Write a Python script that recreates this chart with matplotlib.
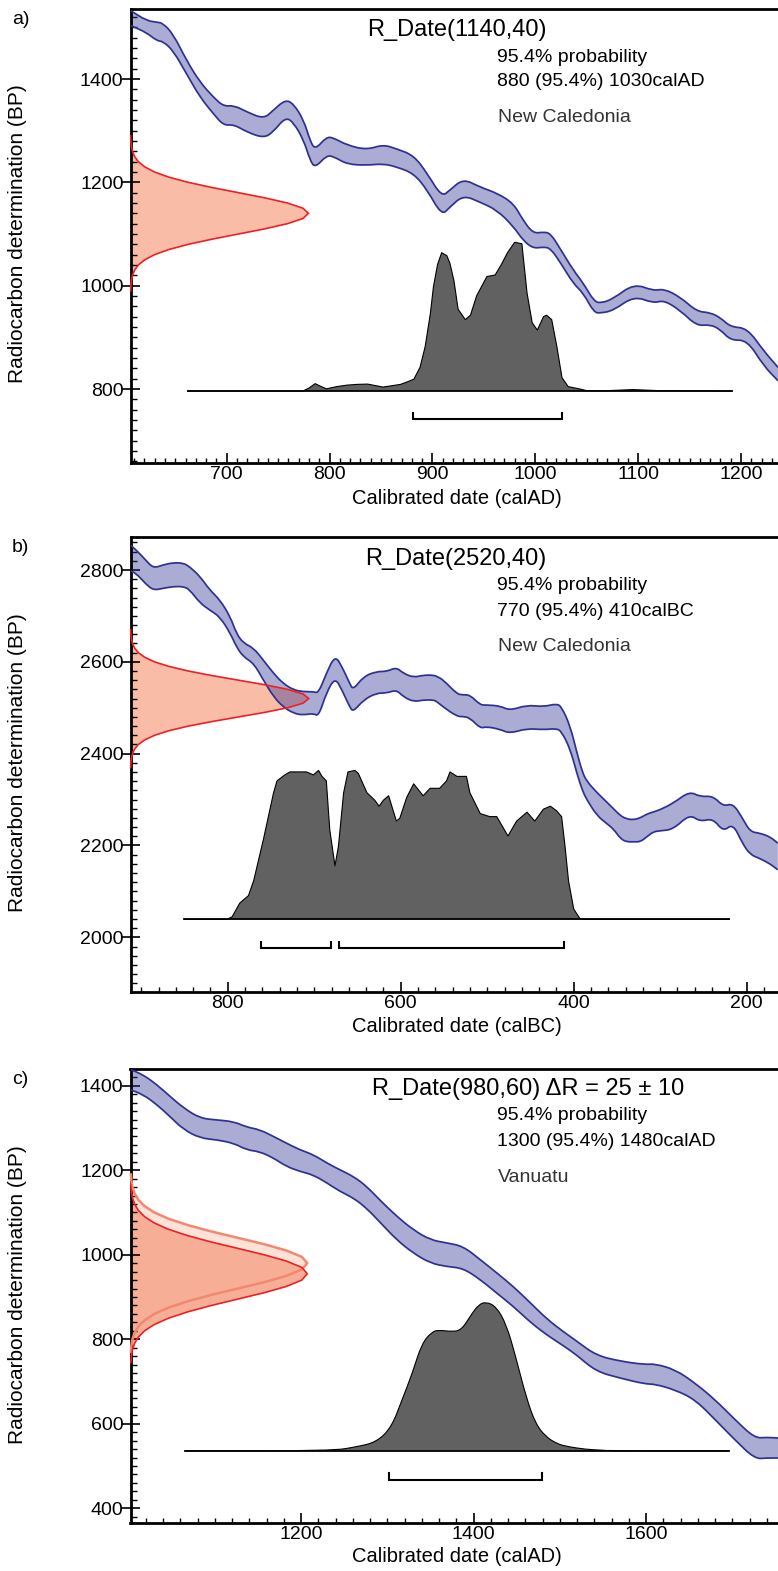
import numpy as np
import matplotlib
matplotlib.use('Agg')
import matplotlib.pyplot as plt
from matplotlib.ticker import MultipleLocator, FixedLocator
from matplotlib.path import Path
from matplotlib.patches import PathPatch

plt.rcParams['font.family'] = ['Liberation Sans', 'DejaVu Sans']

W, H = 778, 1571

# ---------------- Panel a data ----------------
a_cal_years = [600, 607, 622, 632, 638, 648, 661, 674, 687, 697, 707, 720, 736, 745, 757, 765, 775,
               781, 786, 797, 804, 817, 836, 852, 865, 882, 895, 909, 917, 930, 946, 963, 979, 988,
               998, 1008, 1015, 1025, 1037, 1047, 1057, 1064, 1076, 1096, 1115, 1125, 1141, 1157,
               1170, 1180, 1190, 1206, 1222, 1236]
a_cal_upper = [1540, 1532, 1513, 1510, 1508, 1487, 1436, 1394, 1365, 1347, 1349, 1336, 1323, 1339, 1360,
               1352, 1320, 1281, 1263, 1288, 1286, 1272, 1263, 1273, 1265, 1252, 1217, 1172, 1185, 1207,
               1191, 1179, 1159, 1127, 1101, 1104, 1101, 1069, 1030, 1004, 970, 966, 975, 1004, 990,
               994, 978, 950, 948, 938, 920, 918, 874, 842]
a_cal_lower = [1510, 1503, 1490, 1474, 1473, 1455, 1410, 1365, 1333, 1310, 1312, 1297, 1286, 1297, 1326,
               1316, 1281, 1243, 1228, 1252, 1250, 1235, 1233, 1236, 1230, 1217, 1185, 1136, 1152, 1175,
               1162, 1146, 1114, 1088, 1072, 1075, 1072, 1043, 1004, 985, 948, 947, 952, 980, 966,
               972, 952, 922, 925, 915, 894, 895, 845, 816]
a_rdate_bp = [990, 1000, 1010, 1020, 1030, 1040, 1050, 1060, 1070, 1080, 1090, 1100, 1110, 1120, 1130,
              1140, 1150, 1160, 1170, 1180, 1190, 1200, 1210, 1220, 1230, 1240, 1250, 1260, 1270,
              1280, 1290]
a_rdate_dens = [0.001, 0.002, 0.005, 0.011, 0.023, 0.044, 0.080, 0.135, 0.216, 0.325, 0.458, 0.607,
                0.755, 0.882, 0.969, 1.000, 0.969, 0.882, 0.755, 0.607, 0.458, 0.325, 0.216, 0.135,
                0.080, 0.044, 0.023, 0.011, 0.005, 0.002, 0.001]
a_post_years = [662, 774, 780, 786, 792, 797, 807, 817, 827, 837, 852, 869, 875, 882, 888, 893, 898,
                901, 905, 909, 914, 917, 921, 925, 932, 937, 943, 953, 961, 967, 973, 980, 987, 992,
                997, 1002, 1008, 1011, 1016, 1021, 1026, 1032, 1044, 1050, 1070, 1095, 1120, 1191]
a_post_prob = [0, 0, 0.02, 0.05, 0.03, 0.015, 0.03, 0.04, 0.045, 0.047, 0.027, 0.045, 0.06, 0.08, 0.16,
               0.30, 0.52, 0.70, 0.85, 0.93, 0.91, 0.86, 0.74, 0.55, 0.48, 0.51, 0.64, 0.77, 0.78, 0.85,
               0.93, 1.0, 0.99, 0.66, 0.46, 0.41, 0.50, 0.51, 0.48, 0.30, 0.09, 0.03, 0.013, 0.003,
               0.003, 0.01, 0.003, 0]
a_ranges = [(881, 1026)]

# ---------------- Panel b data (calBC) ----------------
b_cal_years = [915, 906, 895, 886, 875, 863, 851, 844, 832, 821, 809, 797, 790, 782, 770, 759, 747,
               736, 724, 713, 701, 695, 686, 676, 668, 659, 655, 643, 628, 616, 605, 597, 585, 574,
               562, 558, 551, 535, 528, 520, 508, 501, 485, 474, 454, 435, 420, 414, 404, 396, 390,
               385, 373, 362, 354, 346, 339, 331, 323, 316, 308, 300, 285, 266, 254, 239, 227, 216,
               205, 196, 185, 173, 164]
b_cal_upper = [2858, 2844, 2822, 2804, 2811, 2816, 2815, 2807, 2786, 2757, 2735, 2698, 2662, 2641, 2630,
               2604, 2575, 2553, 2539, 2535, 2535, 2532, 2575, 2614, 2590, 2553, 2539, 2568, 2579, 2579,
               2588, 2575, 2566, 2571, 2571, 2568, 2561, 2530, 2528, 2528, 2506, 2506, 2504, 2494,
               2506, 2502, 2509, 2502, 2460, 2400, 2360, 2340, 2315, 2295, 2280, 2265, 2258, 2256,
               2260, 2268, 2273, 2278, 2292, 2318, 2306, 2308, 2285, 2292, 2260, 2230, 2227, 2219, 2205]
b_cal_lower = [2800, 2793, 2770, 2756, 2760, 2764, 2764, 2757, 2728, 2713, 2698, 2662, 2633, 2611, 2597,
               2561, 2524, 2502, 2488, 2484, 2488, 2481, 2532, 2566, 2539, 2502, 2491, 2517, 2532, 2532,
               2539, 2524, 2513, 2517, 2517, 2513, 2502, 2481, 2481, 2478, 2455, 2459, 2453, 2444,
               2455, 2452, 2455, 2448, 2410, 2355, 2320, 2300, 2265, 2248, 2236, 2215, 2208, 2208,
               2208, 2218, 2230, 2232, 2235, 2268, 2252, 2259, 2230, 2248, 2205, 2180, 2172, 2160, 2147]
b_rdate_bp = [2370, 2380, 2390, 2400, 2410, 2420, 2430, 2440, 2450, 2460, 2470, 2480, 2490, 2500, 2510,
              2520, 2530, 2540, 2550, 2560, 2570, 2580, 2590, 2600, 2610, 2620, 2630, 2640, 2650,
              2660, 2670]
b_rdate_dens = [0.001, 0.002, 0.005, 0.011, 0.023, 0.044, 0.080, 0.135, 0.216, 0.325, 0.458, 0.607,
                0.755, 0.882, 0.969, 1.000, 0.969, 0.882, 0.755, 0.607, 0.458, 0.325, 0.216, 0.135,
                0.080, 0.044, 0.023, 0.011, 0.005, 0.002, 0.001]
b_post_years = [850, 801, 795, 786, 776, 770, 759, 747, 743, 734, 728, 718, 709, 701, 695, 691, 686,
                682, 676, 672, 666, 661, 653, 649, 639, 630, 625, 620, 614, 605, 601, 593, 585, 574,
                566, 555, 547, 543, 535, 524, 520, 508, 497, 489, 476, 466, 454, 445, 435, 427, 420,
                414, 410, 406, 400, 393, 388, 220]
b_post_prob = [0, 0, 0.017, 0.11, 0.16, 0.26, 0.53, 0.85, 0.93, 0.97, 0.99, 0.99, 0.99, 0.97, 1.0, 0.96,
               0.93, 0.60, 0.36, 0.49, 0.85, 0.99, 1.0, 0.98, 0.85, 0.80, 0.76, 0.80, 0.83, 0.66, 0.68,
               0.82, 0.91, 0.83, 0.88, 0.88, 0.93, 0.99, 0.96, 0.96, 0.85, 0.71, 0.69, 0.69, 0.56, 0.66,
               0.72, 0.66, 0.74, 0.76, 0.73, 0.69, 0.49, 0.26, 0.07, 0.007, 0, 0]
b_ranges = [(762, 681), (671, 411)]

# ---------------- Panel c data ----------------
c_cal_years = [1000, 1017, 1033, 1048, 1064, 1083, 1102, 1122, 1137, 1152, 1168, 1183, 1199, 1214,
               1230, 1245, 1261, 1276, 1292, 1311, 1330, 1350, 1369, 1388, 1408, 1427, 1446, 1466,
               1485, 1504, 1520, 1542, 1570, 1599, 1610, 1634, 1657, 1680, 1703, 1726, 1740, 1755]
c_cal_upper = [1440, 1426, 1402, 1375, 1347, 1323, 1319, 1315, 1302, 1296, 1280, 1264, 1248, 1237,
               1217, 1201, 1185, 1162, 1128, 1091, 1059, 1035, 1028, 1020, 988, 957, 925, 886, 848,
               818, 795, 762, 748, 740, 742, 728, 696, 657, 610, 566, 568, 566]
c_cal_lower = [1392, 1379, 1355, 1327, 1296, 1276, 1272, 1264, 1248, 1244, 1229, 1209, 1197, 1189,
               1170, 1150, 1134, 1110, 1076, 1035, 1004, 980, 972, 968, 941, 909, 878, 840, 810, 785,
               762, 724, 708, 694, 694, 680, 657, 610, 562, 517, 519, 519]
c_raw_bp = [770, 785, 800, 815, 830, 845, 860, 875, 890, 905, 920, 935, 950, 965, 980, 995, 1010,
            1025, 1040, 1055, 1070, 1085, 1100, 1115, 1130, 1145, 1160, 1175, 1190]
c_corr_bp = [745, 760, 775, 790, 805, 820, 835, 850, 865, 880, 895, 910, 925, 940, 955, 970, 985,
             1000, 1015, 1030, 1045, 1060, 1075, 1090, 1105, 1120, 1135, 1150, 1165]
c_rdate_dens = [0.002, 0.005, 0.011, 0.023, 0.044, 0.080, 0.135, 0.216, 0.325, 0.458, 0.607, 0.755,
                0.882, 0.969, 1.000, 0.969, 0.882, 0.755, 0.607, 0.458, 0.325, 0.216, 0.135, 0.080,
                0.044, 0.023, 0.011, 0.005, 0.002]
c_post_years = [1066, 1235, 1265, 1288, 1305, 1317, 1329, 1340, 1352, 1360, 1375, 1386, 1398, 1406,
                1414, 1426, 1438, 1449, 1461, 1472, 1484, 1496, 1507, 1530, 1547, 1560, 1696]
c_post_prob = [0, 0, 0.027, 0.06, 0.16, 0.34, 0.52, 0.72, 0.80, 0.81, 0.80, 0.81, 0.92, 0.98, 1.0,
               0.97, 0.85, 0.63, 0.36, 0.18, 0.094, 0.05, 0.03, 0.01, 0.005, 0, 0]
c_ranges = [(1302, 1479)]

# ---------------- texts ----------------
a_texts = ["R_Date(1140,40)", "95.4% probability", "880 (95.4%) 1030calAD", "New Caledonia"]
b_texts = ["R_Date(2520,40)", "95.4% probability", "770 (95.4%) 410calBC", "New Caledonia"]
c_texts = ["R_Date(980,60) \u0394R = 25 \u00b1 10", "95.4% probability", "1300 (95.4%) 1480calAD", "Vanuatu"]

NAVY = '#2E3192'
RED = '#EE2024'
REDFILL = '#F9BCA7'
GRAY = '#616161'

fig = plt.figure(figsize=(W / 100, H / 100), dpi=100)


def make_axes(top, bottom, left=130.5):
    return fig.add_axes([left / W, 1 - bottom / H, 1 - left / W, (bottom - top) / H])


def style_axes(ax, xmaj, xmin_step, ymaj, ymin_step):
    for s in ['top', 'left', 'bottom']:
        ax.spines[s].set_linewidth(2.0)
    ax.spines['right'].set_visible(False)
    ax.xaxis.set_major_locator(FixedLocator(xmaj))
    ax.xaxis.set_minor_locator(MultipleLocator(xmin_step))
    ax.yaxis.set_major_locator(FixedLocator(ymaj))
    ax.yaxis.set_minor_locator(MultipleLocator(ymin_step))
    ax.tick_params(axis='x', which='major', direction='in', length=7.5, width=1.2, pad=2.5,
                   labelsize=14, top=False)
    ax.tick_params(axis='x', which='minor', direction='in', length=3.6, width=1.0, top=False)
    ax.tick_params(axis='y', which='major', direction='inout', length=13, width=1.2, pad=-1.5,
                   labelsize=14, right=False)
    ax.tick_params(axis='y', which='minor', direction='in', length=4.3, width=1.0, right=False)


def smooth_segments(xs, ys):
    """Quadratic B-spline style path segments through the given points (rendering only)."""
    p = np.column_stack([xs, ys]).astype(float)
    n = len(p)
    verts = [p[0]]
    codes = [Path.LINETO]
    m = (p[:-1] + p[1:]) / 2.0
    verts.append(m[0])
    codes.append(Path.LINETO)
    for i in range(1, n - 1):
        verts.extend([p[i], m[i]])
        codes.extend([Path.CURVE3, Path.CURVE3])
    verts.append(p[-1])
    codes.append(Path.LINETO)
    return verts, codes


def smooth_line(ax, xs, ys, **kw):
    v, c = smooth_segments(xs, ys)
    c[0] = Path.MOVETO
    ax.add_patch(PathPatch(Path(v, c), fill=False, **kw))


def smooth_fill(ax, xs, top, xb, bottom, **kw):
    v1, c1 = smooth_segments(xs, top)
    v2, c2 = smooth_segments(xb[::-1], bottom[::-1])
    c1[0] = Path.MOVETO
    v = v1 + v2 + [v1[0]]
    c = c1 + c2 + [Path.CLOSEPOLY]
    ax.add_patch(PathPatch(Path(v, c), **kw))


def draw_band(ax, yrs, up, lo):
    yrs = np.asarray(yrs, float)
    up = np.asarray(up, float)
    lo = np.asarray(lo, float)
    smooth_fill(ax, yrs, up, yrs, lo, facecolor=NAVY, alpha=0.4, lw=0, zorder=2)
    smooth_line(ax, yrs, up, edgecolor=NAVY, lw=1.25, zorder=3, joinstyle='round')
    smooth_line(ax, yrs, lo, edgecolor=NAVY, lw=1.25, zorder=3, joinstyle='round')


def draw_rdate(ax, x0, span, bp, dens, fill, edge, lw=1.2, zf=1, ze=4):
    xs = x0 + span * np.asarray(dens)
    ax.fill_betweenx(bp, x0, xs, facecolor=fill, lw=0, zorder=zf)
    ax.plot(xs, bp, color=edge, lw=lw, zorder=ze, clip_on=False, solid_joinstyle='miter')


def draw_post(ax, yrs, prob, base, height, start, end, smooth=False):
    ys = base + height * np.asarray(prob)
    if smooth:
        yrs = np.asarray(yrs, float)
        smooth_fill(ax, yrs, ys, np.array([yrs[0], yrs[-1]]), np.array([base, base]),
                    facecolor=GRAY, lw=0, zorder=2.4)
        smooth_line(ax, yrs, ys, edgecolor='black', lw=0.8, zorder=2.5)
    else:
        ax.fill_between(yrs, base, ys, facecolor=GRAY, lw=0, zorder=2.4)
        ax.plot(yrs, ys, color='black', lw=0.8, zorder=2.5)
    ax.plot([start, end], [base, base], color='black', lw=1.3, zorder=2.6)


def draw_ranges(ax, ranges, y, tick):
    for x0, x1 in ranges:
        ax.plot([x0, x0, x1, x1], [y + tick, y, y, y + tick], color='black', lw=1.5,
                solid_joinstyle='miter', zorder=3)


def px_text(x, y, s, size=14, color='black', ha='left'):
    fig.text(x / W, 1 - y / H, s, fontsize=size, color=color, ha=ha, va='center')


# ---------------- Panel a ----------------
axa = make_axes(9, 463)
axa.set_xlim(606.5, 1236)
axa.set_ylim(656.8, 1535.5)
style_axes(axa, [700, 800, 900, 1000, 1100, 1200], 10, [800, 1000, 1200, 1400], 20)
draw_rdate(axa, 606.5, 173, a_rdate_bp, a_rdate_dens, REDFILL, RED)
draw_band(axa, a_cal_years, a_cal_upper, a_cal_lower)
draw_post(axa, a_post_years, a_post_prob, 796, 288, a_post_years[0], a_post_years[-1])
draw_ranges(axa, a_ranges, 741, 12.6)

# ---------------- Panel b ----------------
axb = make_axes(537, 992)
axb.set_xlim(912.4, 163.8)
axb.set_ylim(1880.9, 2871.9)
style_axes(axb, [800, 600, 400, 200], 20, [2000, 2200, 2400, 2600, 2800], 20)
draw_rdate(axb, 912.4, -206, b_rdate_bp, b_rdate_dens, REDFILL, RED)
draw_band(axb, b_cal_years, b_cal_upper, b_cal_lower)
draw_post(axb, b_post_years, b_post_prob, 2039, 324.5, b_post_years[0], b_post_years[-1])
draw_ranges(axb, b_ranges, 1976, 14)

# ---------------- Panel c ----------------
axc = make_axes(1069, 1523)
axc.set_xlim(1002.3, 1753)
axc.set_ylim(365.2, 1439.5)
style_axes(axc, [1200, 1400, 1600], 20, [400, 600, 800, 1000, 1200, 1400], 20)
xs_raw = 1002.3 + 205 * np.asarray(c_rdate_dens)
xs_cor = 1002.3 + 205 * np.asarray(c_rdate_dens)
axc.fill_betweenx(c_raw_bp, 1002.3, xs_raw, facecolor='#FDE2D8', lw=0, zorder=1)
axc.fill_betweenx(c_corr_bp, 1002.3, xs_cor, facecolor='#F7AE96', lw=0, zorder=1.1)
axc.plot(xs_raw, c_raw_bp, color='#F3876F', lw=1.8, zorder=3.8, clip_on=False)
axc.plot(xs_cor, c_corr_bp, color=RED, lw=1.2, zorder=4, clip_on=False)
draw_band(axc, c_cal_years, c_cal_upper, c_cal_lower)
draw_post(axc, c_post_years, c_post_prob, 536, 352.6, c_post_years[0], c_post_years[-1], smooth=True)
draw_ranges(axc, c_ranges, 467, 15.5)

# ---------------- Texts ----------------
for top, lab in [(9, 'a)'), (537, 'b)'), (1069, 'c)')]:
    px_text(12, top + 11, lab, size=14)

for (tx, ty), texts in [((367, 30), a_texts), ((365, 559), b_texts), ((372, 1089), c_texts)]:
    px_text(tx, ty, texts[0], size=17)
    px_text(497, ty + 27, texts[1])
    px_text(497, ty + 52, texts[2])
    px_text(498, ty + 88, texts[3], color='#333333')

for cy in [234, 763, 1295]:
    fig.text(18 / W, 1 - cy / H, 'Radiocarbon determination (BP)', rotation=90, fontsize=15,
             ha='center', va='center')

for cy, lab in [(498, 'Calibrated date (calAD)'), (1027, 'Calibrated date (calBC)'),
                (1556, 'Calibrated date (calAD)')]:
    fig.text(457 / W, 1 - cy / H, lab, fontsize=14.5, ha='center', va='center')

fig.savefig('out.png', dpi=100)
